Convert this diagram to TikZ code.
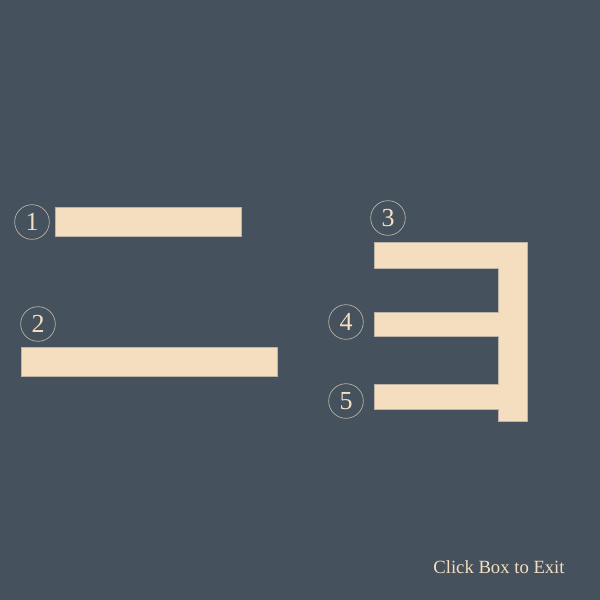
\documentclass[tikz,border=0pt]{standalone}
\usepackage{fontspec}
\setmainfont{Liberation Serif}
\usetikzlibrary{positioning}
\definecolor{slatebg}{HTML}{46515E}
\definecolor{wheatbar}{HTML}{F5DEBF}
\definecolor{ringline}{HTML}{BDB3A4}
\begin{document}
\begin{tikzpicture}[x=0.75pt,y=-0.75pt,
  bar/.style={fill=wheatbar,draw=ringline,line width=0.3pt},
  num/.style={circle,draw=ringline,line width=0.5pt,minimum size=26pt,inner sep=0pt,text=wheatbar,font=\fontsize{19.5}{19.5}\selectfont}]
% background, 600 x 600 px
\fill[slatebg] (0,0) rectangle (600,600);
\useasboundingbox (0,0) rectangle (600,600);
% left bars
\draw[bar] (55,207) rectangle (241,236);
\draw[bar] (21,347) rectangle (277,376);
% the E shape
\draw[bar] (374,242) -- (527,242) -- (527,421) -- (498,421) -- (498,409) -- (374,409) -- (374,384)
  -- (498,384) -- (498,336) -- (374,336) -- (374,312) -- (498,312) -- (498,268) -- (374,268) -- cycle;
% numbered rings
\foreach \n/\x/\y in {1/32/222,2/38/324,3/388/218,4/346/322,5/346/401} {
  \node[num] (ring\n) at (\x,\y) {\n};
}
\node[text=wheatbar,font=\fontsize{14}{14}\selectfont] (exit) at (499,567) {Click Box to Exit};
\end{tikzpicture}
\end{document}
